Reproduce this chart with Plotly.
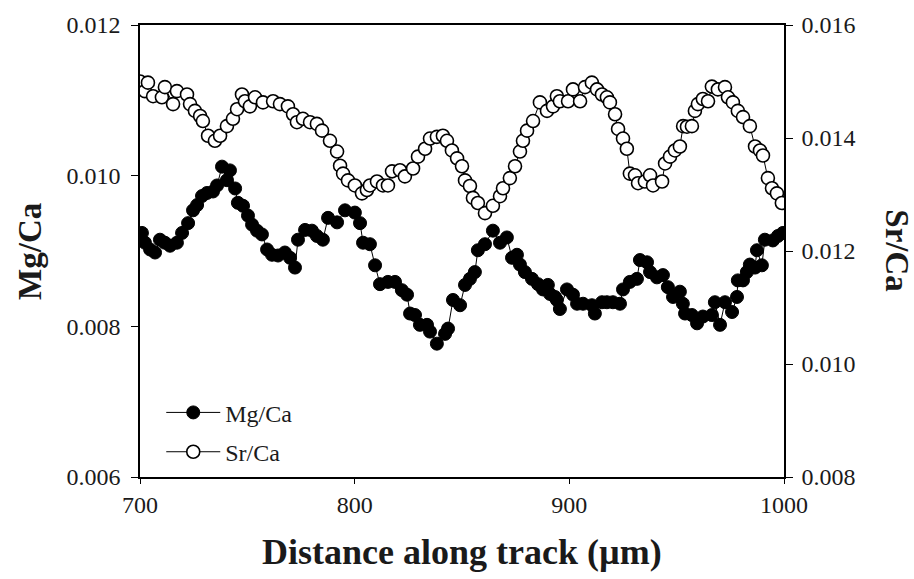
import plotly.graph_objects as go

# ---- data ----
sr_x = [700.0, 702.3, 703.7, 706.1, 710.2, 711.6, 715.4, 717.2, 721.9, 723.3,
        725.6, 728.0, 729.3, 731.7, 734.9, 737.3, 740.5, 743.3, 745.2, 747.5,
        748.9, 751.2, 753.6, 757.3, 762.0, 765.2, 768.9, 771.3, 773.1, 775.9,
        779.2, 782.4, 784.8, 788.5, 791.8, 793.2, 794.6, 796.9, 800.1, 803.4,
        805.7, 807.1, 810.4, 813.2, 815.5, 817.4, 821.1, 823.4, 827.2, 829.5,
        832.8, 835.1, 838.3, 841.1, 843.0, 845.3, 847.7, 850.0, 851.4, 853.7,
        855.1, 857.4, 860.7, 864.4, 867.7, 869.1, 872.3, 874.7, 877.0, 878.4,
        880.3, 883.1, 886.3, 889.6, 892.4, 894.2, 895.6, 899.4, 901.7, 905.0,
        907.3, 910.5, 912.9, 915.2, 917.5, 918.9, 921.3, 922.7, 925.0, 926.8,
        928.2, 930.6, 932.0, 935.2, 937.6, 939.0, 943.2, 944.6, 946.9, 949.2,
        951.5, 953.0, 954.8, 957.1, 958.5, 959.9, 962.2, 964.6, 966.4, 969.2,
        972.5, 973.9, 976.2, 978.5, 980.9, 984.1, 986.5, 988.8, 990.2, 992.5,
        994.4, 996.7, 999.0]
sr_ca = [0.01500, 0.01483, 0.01498, 0.01474, 0.01472, 0.01490, 0.01460, 0.01483, 0.01477, 0.01460,
         0.01448, 0.01439, 0.01430, 0.01404, 0.01395, 0.01404, 0.01421, 0.01434, 0.01451, 0.01477,
         0.01465, 0.01456, 0.01472, 0.01463, 0.01465, 0.01460, 0.01456, 0.01442, 0.01428, 0.01434,
         0.01428, 0.01425, 0.01413, 0.01395, 0.01376, 0.01351, 0.01337, 0.01325, 0.01316, 0.01302,
         0.01308, 0.01316, 0.01323, 0.01316, 0.01316, 0.01341, 0.01343, 0.01332, 0.01346, 0.01367,
         0.01381, 0.01399, 0.01402, 0.01404, 0.01395, 0.01378, 0.01364, 0.01350, 0.01325, 0.01315,
         0.01294, 0.01285, 0.01267, 0.01280, 0.01297, 0.01311, 0.01329, 0.01350, 0.01376, 0.01395,
         0.01413, 0.01430, 0.01463, 0.01448, 0.01456, 0.01474, 0.01465, 0.01465, 0.01486, 0.01465,
         0.01490, 0.01498, 0.01486, 0.01477, 0.01472, 0.01463, 0.01442, 0.01416, 0.01399, 0.01381,
         0.01337, 0.01334, 0.01320, 0.01323, 0.01334, 0.01316, 0.01323, 0.01355, 0.01367, 0.01378,
         0.01385, 0.01421, 0.01420, 0.01421, 0.01448, 0.01460, 0.01469, 0.01465, 0.01491, 0.01486,
         0.01490, 0.01472, 0.01463, 0.01448, 0.01437, 0.01421, 0.01385, 0.01378, 0.01369, 0.01329,
         0.01311, 0.01302, 0.01285]

mg_x = [700.9, 702.3, 704.7, 707.0, 709.3, 711.6, 714.0, 717.2, 719.6, 722.4,
        724.7, 726.6, 728.9, 731.2, 734.0, 735.9, 738.2, 740.5, 741.9, 744.3,
        745.6, 748.0, 750.3, 752.2, 754.5, 756.8, 759.2, 761.5, 764.3, 767.5,
        769.9, 772.2, 773.6, 776.9, 780.1, 782.4, 785.2, 787.6, 791.8, 795.5,
        800.1, 802.5, 803.9, 807.1, 809.5, 811.8, 815.5, 818.8, 822.0, 824.4,
        825.8, 828.1, 830.4, 833.7, 835.1, 838.3, 842.1, 843.5, 845.8, 849.1,
        851.4, 853.7, 856.0, 857.4, 860.7, 864.4, 867.7, 870.9, 873.3, 875.6,
        877.0, 879.3, 882.6, 885.4, 887.7, 890.0, 891.0, 893.3, 894.2, 895.6,
        898.9, 901.7, 903.6, 906.4, 910.5, 911.9, 915.2, 917.5, 920.3, 923.6,
        925.0, 928.2, 931.5, 932.9, 936.2, 937.6, 940.8, 943.6, 945.9, 948.3,
        951.5, 952.9, 953.9, 957.1, 959.5, 962.2, 966.4, 967.8, 970.2, 972.5,
        975.8, 978.1, 978.5, 980.9, 982.7, 984.1, 986.5, 987.4, 989.7, 991.1,
        994.8, 997.2, 999.5]
mg_ca = [0.00924, 0.00911, 0.00902, 0.00898, 0.00915, 0.00911, 0.00907, 0.00911, 0.00924, 0.00937,
         0.00954, 0.00961, 0.00973, 0.00977, 0.00979, 0.00987, 0.01012, 0.00994, 0.01007, 0.00983,
         0.00964, 0.00960, 0.00947, 0.00935, 0.00927, 0.00922, 0.00902, 0.00895, 0.00894, 0.00898,
         0.00891, 0.00878, 0.00915, 0.00928, 0.00927, 0.00920, 0.00915, 0.00944, 0.00938, 0.00954,
         0.00951, 0.00937, 0.00911, 0.00909, 0.00881, 0.00856, 0.00859, 0.00859, 0.00848, 0.00842,
         0.00817, 0.00815, 0.00802, 0.00802, 0.00793, 0.00777, 0.00790, 0.00797, 0.00835, 0.00828,
         0.00855, 0.00863, 0.00872, 0.00901, 0.00909, 0.00927, 0.00911, 0.00918, 0.00891, 0.00895,
         0.00882, 0.00872, 0.00863, 0.00856, 0.00849, 0.00855, 0.00843, 0.00839, 0.00835, 0.00823,
         0.00849, 0.00842, 0.00830, 0.00830, 0.00828, 0.00817, 0.00832, 0.00832, 0.00832, 0.00830,
         0.00849, 0.00859, 0.00863, 0.00888, 0.00885, 0.00872, 0.00865, 0.00868, 0.00852, 0.00839,
         0.00846, 0.00830, 0.00817, 0.00815, 0.00804, 0.00813, 0.00815, 0.00832, 0.00802, 0.00832,
         0.00819, 0.00839, 0.00861, 0.00861, 0.00872, 0.00882, 0.00878, 0.00901, 0.00881, 0.00915,
         0.00914, 0.00920, 0.00924]

x_ticks = [700, 800, 900, 1000]
mg_ticks = [0.006, 0.008, 0.010, 0.012]
sr_ticks = [0.008, 0.010, 0.012, 0.014, 0.016]

FONT = "Liberation Serif"
TXT = "#1a1a1a"

fig = go.Figure()
fig.add_trace(go.Scatter(
    x=mg_x, y=mg_ca, name="Mg/Ca", mode="lines+markers",
    line=dict(color="black", width=1),
    marker=dict(symbol="circle", size=13, color="black",
                line=dict(color="black", width=1)),
    yaxis="y", legend="legend"))
fig.add_trace(go.Scatter(
    x=sr_x, y=sr_ca, name="Sr/Ca", mode="lines+markers",
    line=dict(color="black", width=1),
    marker=dict(symbol="circle", size=13, color="white",
                line=dict(color="black", width=1.6)),
    yaxis="y2", legend="legend2"))

axis_common = dict(showline=True, linecolor="black", linewidth=1.5,
                   tickwidth=1.3, tickcolor="black",
                   showgrid=False, zeroline=False,
                   tickfont=dict(family=FONT, size=24, color=TXT))

legend_common = dict(xanchor="left", yanchor="middle",
                     bgcolor="rgba(0,0,0,0)", borderwidth=0,
                     font=dict(family=FONT, size=24, color=TXT),
                     itemwidth=54)

fig.update_layout(
    width=914, height=579,
    margin=dict(l=140, r=130, t=20, b=102),
    paper_bgcolor="white", plot_bgcolor="white",
    showlegend=True,
    legend=dict(x=0.033, y=0.142, **legend_common),
    legend2=dict(x=0.033, y=0.055, **legend_common),
    xaxis=dict(range=[700, 1000], tickvals=x_ticks, mirror=True,
               ticks="outside", ticklen=5, ticklabelstandoff=0, **axis_common),
    yaxis=dict(range=[0.006, 0.012], tickvals=mg_ticks, tickformat=".3f",
               ticks="outside", ticklen=7, ticklabelstandoff=6, **axis_common),
    yaxis2=dict(range=[0.008, 0.016], tickvals=sr_ticks, tickformat=".3f",
                overlaying="y", side="right", ticks="outside", ticklen=7,
                ticklabelstandoff=4, **axis_common),
    annotations=[
        dict(text="<b>Distance along track (\u00b5m)</b>", xref="paper", yref="paper",
             x=0.5, y=-0.166, xanchor="center", yanchor="middle", showarrow=False,
             font=dict(family=FONT, size=36, color=TXT)),
        dict(text="<b>Mg/Ca</b>", xref="paper", yref="paper",
             x=-0.171, y=0.5, xanchor="center", yanchor="middle", showarrow=False,
             textangle=-90, font=dict(family=FONT, size=33, color=TXT)),
        dict(text="<b>Sr/Ca</b>", xref="paper", yref="paper",
             x=1.175, y=0.5, xanchor="center", yanchor="middle", showarrow=False,
             textangle=90, font=dict(family=FONT, size=33, color=TXT)),
    ],
)

fig.write_html("out.html", config={"displayModeBar": False},
               post_script="document.body.style.margin='0';document.body.style.padding='0';")
